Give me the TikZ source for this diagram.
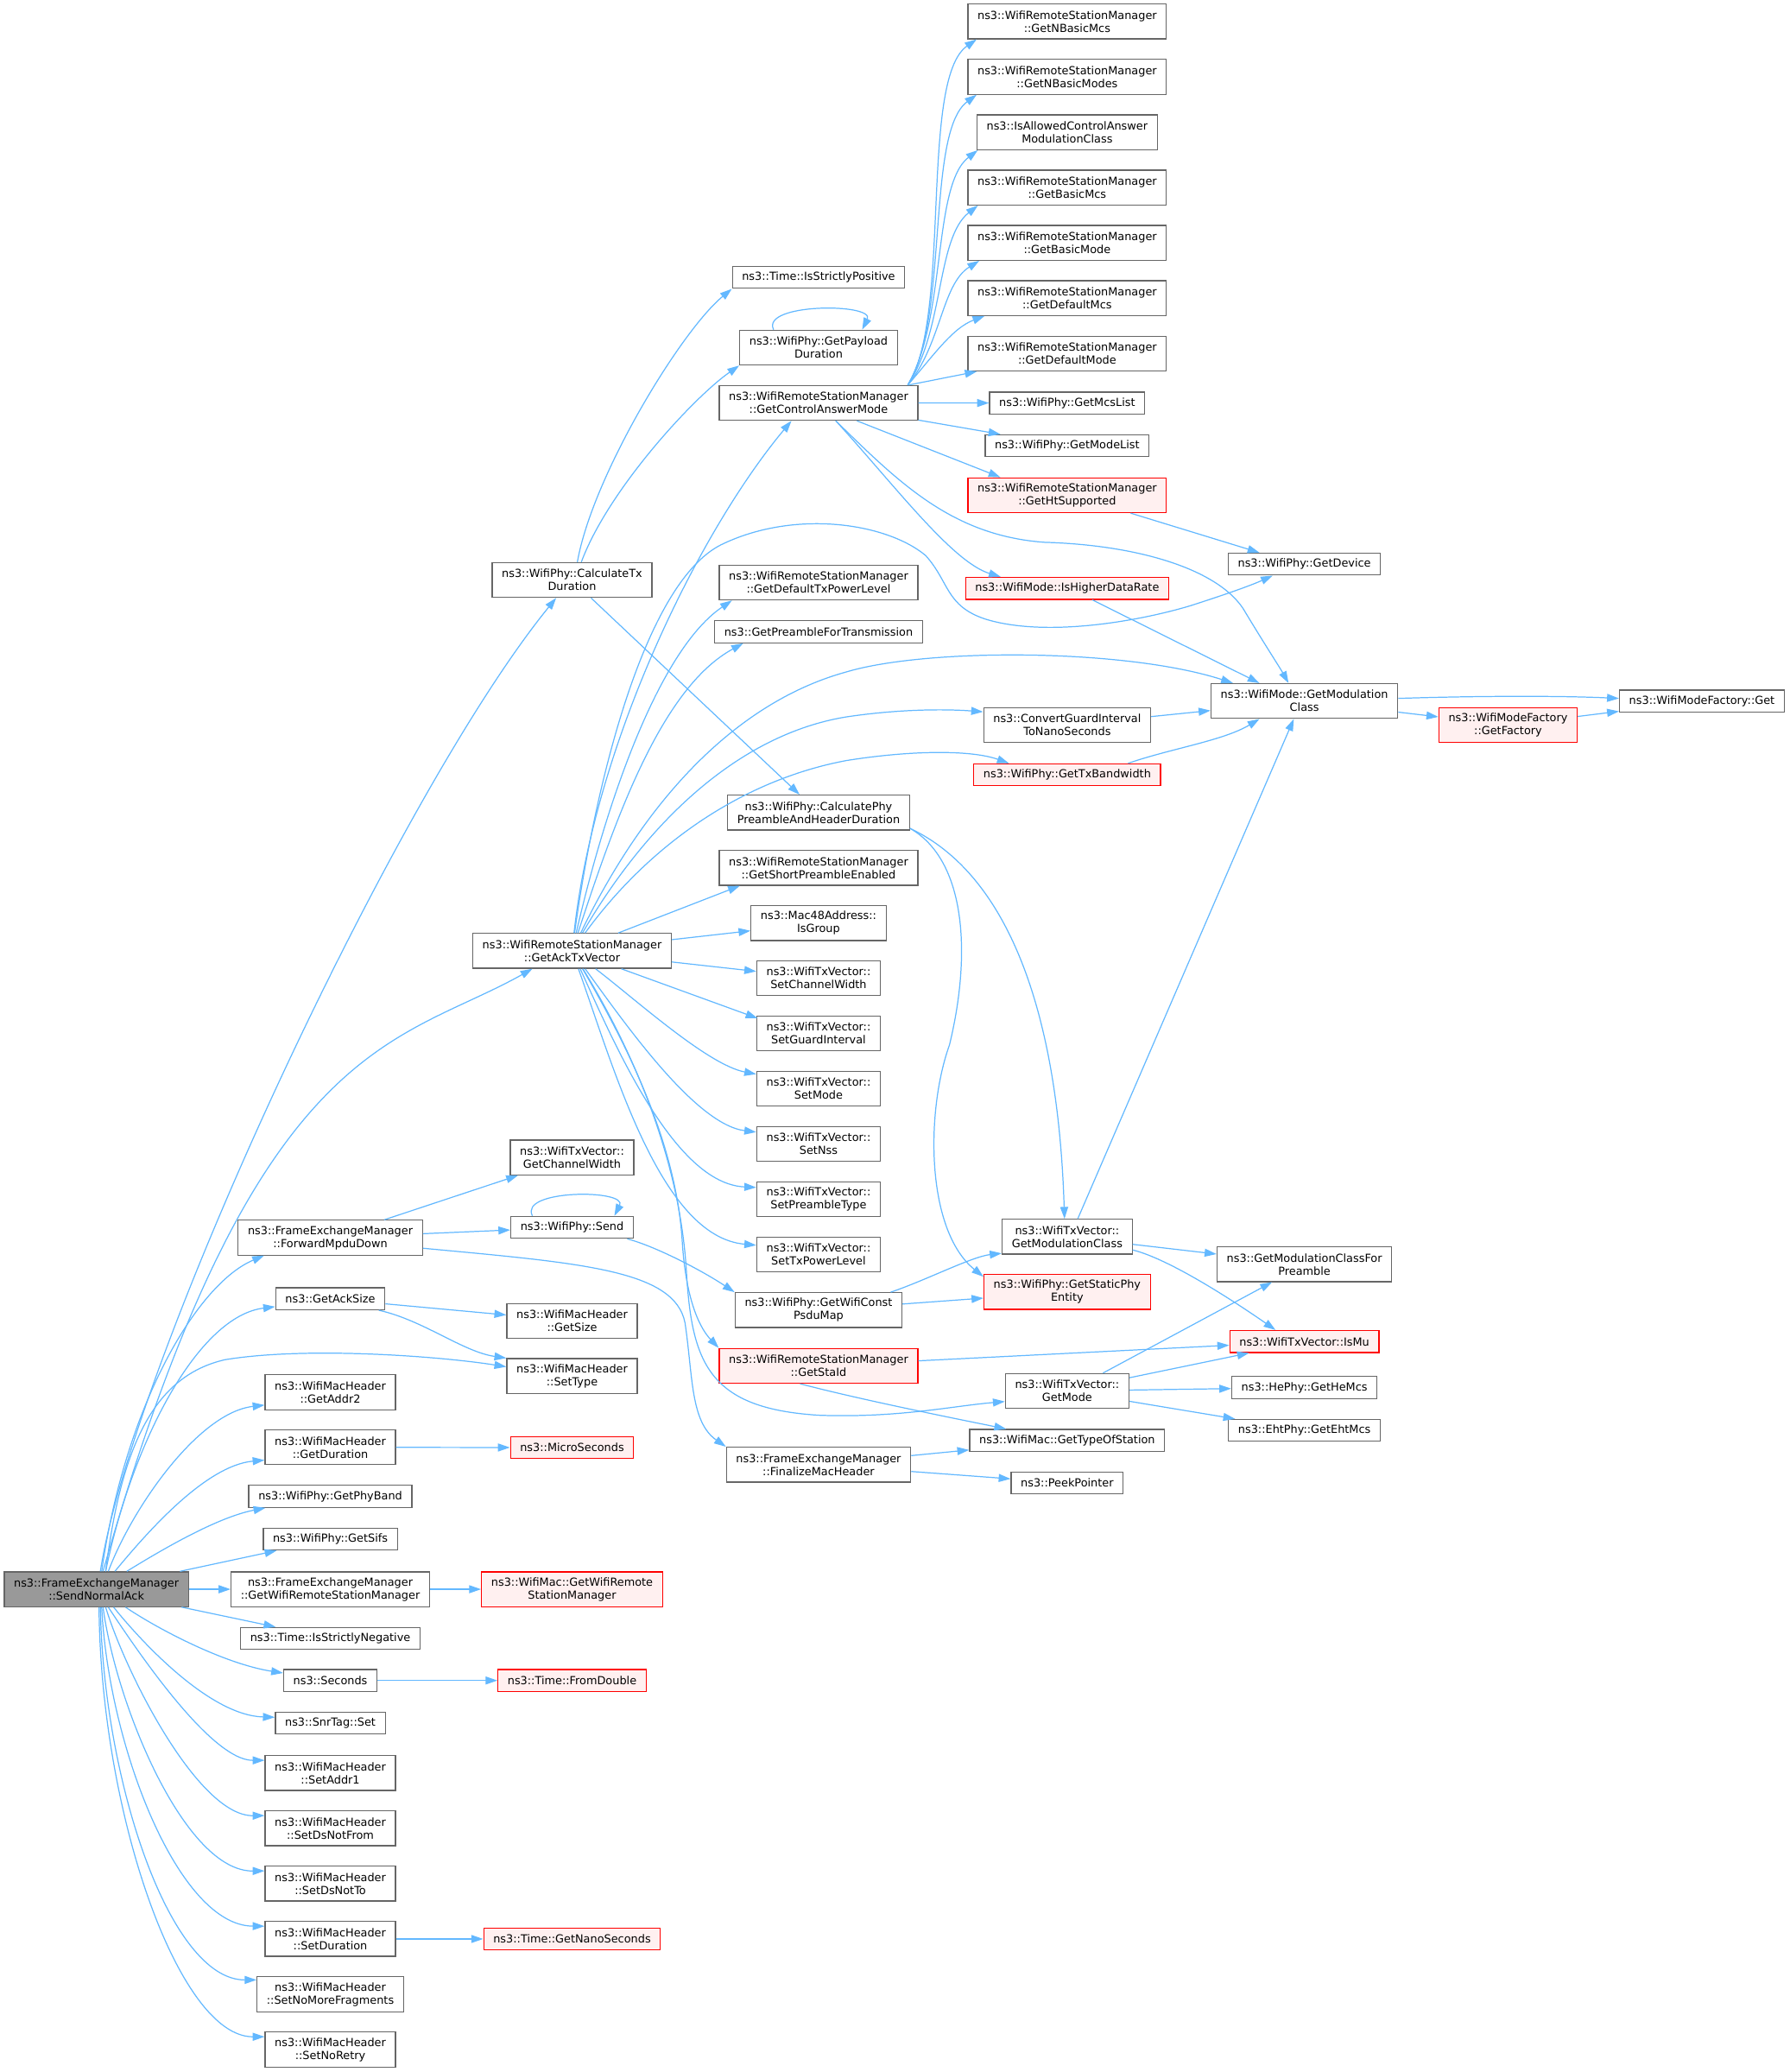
\documentclass[tikz,border=0pt]{standalone}
\usepackage{fontspec}
\setmainfont{DejaVu Sans}
\usetikzlibrary{calc,arrows.meta}
\definecolor{lienbleu}{HTML}{63B8FF}
\definecolor{bordgris}{HTML}{666666}
\definecolor{fondgris}{HTML}{999999}
\definecolor{fondrouge}{HTML}{FFF0F0}
\tikzset{
    fn/.style={draw=bordgris, fill=white, line width=0.8pt, font={\fontsize{8.4pt}{9.8pt}\selectfont},
      align=center, inner xsep=7.3pt, inner ysep=2pt, minimum height=16.6pt},
    fn2/.style={fn, minimum height=26.3pt},
    fnrouge/.style={draw=red, fill=fondrouge},
    fnracine/.style={fill=fondgris},
    appel/.style={draw=lienbleu, line width=0.8pt, -{Triangle[length=9pt,width=6pt]}},
  }
\begin{document}
\begin{tikzpicture}[x=1pt,y=-1pt]
\useasboundingbox (0,0) rectangle (1353,1566.5);
          %RACINE
          \node[fn2,fnracine] (S) at (72.9,1201.5) {ns3::FrameExchangeManager\\::SendNormalAck};

          %colonne 2
          \node[fn2] (fwd) at (249.8,935.7) {ns3::FrameExchangeManager\\::ForwardMpduDown};
          \node[fn] (acksize) at (249.8,981.9) {ns3::GetAckSize};
          \node[fn2] (addr2) at (249.8,1052.6) {ns3::WifiMacHeader\\::GetAddr2};
          \node[fn2] (getdur) at (249.8,1094.2) {ns3::WifiMacHeader\\::GetDuration};
          \node[fn] (phyband) at (249.8,1131.3) {ns3::WifiPhy::GetPhyBand};
          \node[fn] (sifs) at (249.8,1163.6) {ns3::WifiPhy::GetSifs};
          \node[fn2] (getwrsm) at (249.8,1201.5) {ns3::FrameExchangeManager\\::GetWifiRemoteStationManager};
          \node[fn] (negative) at (249.8,1238.7) {ns3::Time::IsStrictlyNegative};
          \node[fn] (seconds) at (249.8,1270.5) {ns3::Seconds};
          \node[fn] (snrset) at (249.8,1302.7) {ns3::SnrTag::Set};
          \node[fn2] (setaddr1) at (249.8,1340.5) {ns3::WifiMacHeader\\::SetAddr1};
          \node[fn2] (dsnotfrom) at (249.8,1382.3) {ns3::WifiMacHeader\\::SetDsNotFrom};
          \node[fn2] (dsnotto) at (249.8,1424.1) {ns3::WifiMacHeader\\::SetDsNotTo};
          \node[fn2] (setdur) at (249.8,1465.9) {ns3::WifiMacHeader\\::SetDuration};
          \node[fn2] (nomorefrag) at (249.8,1507.7) {ns3::WifiMacHeader\\::SetNoMoreFragments};
          \node[fn2] (noretry) at (249.8,1549.5) {ns3::WifiMacHeader\\::SetNoRetry};

          %colonne 3
          \node[fn2] (calctx) at (432.6,438.5) {ns3::WifiPhy::CalculateTx\\Duration};
          \node[fn2] (acktx) at (432.6,718.9) {ns3::WifiRemoteStationManager\\::GetAckTxVector};
          \node[fn2] (chwidth) at (432.6,875.1) {ns3::WifiTxVector::\\GetChannelWidth};
          \node[fn] (send) at (432.6,927.9) {ns3::WifiPhy::Send};
          \node[fn2] (getsize) at (432.6,998.7) {ns3::WifiMacHeader\\::GetSize};
          \node[fn2] (settype) at (432.6,1040.3) {ns3::WifiMacHeader\\::SetType};
          \node[fn,fnrouge] (micro) at (432.6,1094.4) {ns3::MicroSeconds};
          \node[fn2,fnrouge] (macwrsm) at (432.6,1201.5) {ns3::WifiMac::GetWifiRemote\\StationManager};
          \node[fn,fnrouge] (fromdouble) at (432.6,1270.5) {ns3::Time::FromDouble};
          \node[fn,fnrouge] (nanosec) at (432.6,1465.9) {ns3::Time::GetNanoSeconds};

          %colonne 4
          \node[fn] (positive) at (619,209.7) {ns3::Time::IsStrictlyPositive};
          \node[fn2] (payload) at (619,262.8) {ns3::WifiPhy::GetPayload\\Duration};
          \node[fn2] (gcam) at (619,304.6) {ns3::WifiRemoteStationManager\\::GetControlAnswerMode};
          \node[fn2] (txpower) at (619,440.4) {ns3::WifiRemoteStationManager\\::GetDefaultTxPowerLevel};
          \node[fn] (preamble) at (619,477.7) {ns3::GetPreambleForTransmission};
          \node[fn2] (calcphy) at (619,614.3) {ns3::WifiPhy::CalculatePhy\\PreambleAndHeaderDuration};
          \node[fn2] (shortpre) at (619,656.1) {ns3::WifiRemoteStationManager\\::GetShortPreambleEnabled};
          \node[fn2] (isgroup) at (619,697.9) {ns3::Mac48Address::\\IsGroup};
          \node[fn2] (setchw) at (619,739.6) {ns3::WifiTxVector::\\SetChannelWidth};
          \node[fn2] (setgi) at (619,781.4) {ns3::WifiTxVector::\\SetGuardInterval};
          \node[fn2] (setmode) at (619,823.1) {ns3::WifiTxVector::\\SetMode};
          \node[fn2] (setnss) at (619,864.9) {ns3::WifiTxVector::\\SetNss};
          \node[fn2] (setpre) at (619,906.7) {ns3::WifiTxVector::\\SetPreambleType};
          \node[fn2] (settxp) at (619,948.4) {ns3::WifiTxVector::\\SetTxPowerLevel};
          \node[fn2] (constpsdu) at (619,990.5) {ns3::WifiPhy::GetWifiConst\\PsduMap};
          \node[fn2,fnrouge] (staid) at (619,1032.6) {ns3::WifiRemoteStationManager\\::GetStaId};
          \node[fn2] (finalize) at (619,1107.3) {ns3::FrameExchangeManager\\::FinalizeMacHeader};

          %colonne 5
          \node[fn2] (nbmcs) at (807,16.2) {ns3::WifiRemoteStationManager\\::GetNBasicMcs};
          \node[fn2] (nbmodes) at (807,58.1) {ns3::WifiRemoteStationManager\\::GetNBasicModes};
          \node[fn2] (allowed) at (807,100) {ns3::IsAllowedControlAnswer\\ModulationClass};
          \node[fn2] (basicmcs) at (807,141.8) {ns3::WifiRemoteStationManager\\::GetBasicMcs};
          \node[fn2] (basicmode) at (807,183.6) {ns3::WifiRemoteStationManager\\::GetBasicMode};
          \node[fn2] (defmcs) at (807,225.4) {ns3::WifiRemoteStationManager\\::GetDefaultMcs};
          \node[fn2] (defmode) at (807,267.3) {ns3::WifiRemoteStationManager\\::GetDefaultMode};
          \node[fn] (mcslist) at (807,304.7) {ns3::WifiPhy::GetMcsList};
          \node[fn] (modelist) at (807,337) {ns3::WifiPhy::GetModeList};
          \node[fn2,fnrouge] (htsup) at (807,374.4) {ns3::WifiRemoteStationManager\\::GetHtSupported};
          \node[fn,fnrouge] (higher) at (807,444.8) {ns3::WifiMode::IsHigherDataRate};
          \node[fn2] (convgi) at (807,548.2) {ns3::ConvertGuardInterval\\ToNanoSeconds};
          \node[fn,fnrouge] (txbw) at (807,585.8) {ns3::WifiPhy::GetTxBandwidth};
          \node[fn2] (txmodclass) at (807,935) {ns3::WifiTxVector::\\GetModulationClass};
          \node[fn2,fnrouge] (staticphy) at (807,976.8) {ns3::WifiPhy::GetStaticPhy\\Entity};
          \node[fn2] (txgetmode) at (807,1051.6) {ns3::WifiTxVector::\\GetMode};
          \node[fn] (typeofsta) at (807,1089) {ns3::WifiMac::GetTypeOfStation};
          \node[fn] (peek) at (807,1121.2) {ns3::PeekPointer};

          %colonnes 6, 7, 8
          \node[fn] (getdevice) at (986.4,426.5) {ns3::WifiPhy::GetDevice};
          \node[fn2] (modclass) at (986.4,530) {ns3::WifiMode::GetModulation\\Class};
          \node[fn2] (forpreamble) at (986.4,955.8) {ns3::GetModulationClassFor\\Preamble};
          \node[fn,fnrouge] (ismu) at (986.4,1014.2) {ns3::WifiTxVector::IsMu};
          \node[fn] (hemcs) at (986.4,1049) {ns3::HePhy::GetHeMcs};
          \node[fn] (ehtmcs) at (986.4,1081.4) {ns3::EhtPhy::GetEhtMcs};
          \node[fn2,fnrouge] (getfactory) at (1140.4,548.2) {ns3::WifiModeFactory\\::GetFactory};
          \node[fn] (factoryget) at (1287,530) {ns3::WifiModeFactory::Get};

          %APPELS de SendNormalAck
          \draw[appel] ($(S.north)+(3,0)$) .. controls (100,1030) and (300,600) .. ($(calctx.south)+(-12,0)$);
          \draw[appel] ($(S.north)+(5,0)$) .. controls (193,783) and (300,790) .. ($(acktx.south)+(-30,0)$);
          \draw[appel] ($(S.north)+(4,0)$) .. controls (95,1060) and (150,970) .. ($(fwd.south west)+(20,0)$);
          \draw[appel] ($(S.north)+(7,0)$) .. controls (100,1090) and (150,995) .. ($(acksize.west)+(0,6)$);
          \draw[appel] ($(S.north)+(7,0)$) .. controls (92,1090) and (118,1040) .. (170,1028)
                       .. controls (230,1018) and (330,1025) .. (settype.172);
          \draw[appel] ($(S.north)+(9,0)$) .. controls (100,1140) and (150,1068) .. (addr2.191);
          \draw[appel] ($(S.north)+(14,0)$) .. controls (110,1160) and (155,1108) .. (getdur.191);
          \draw[appel] ($(S.north)+(23,0)$) .. controls (125,1170) and (165,1147) .. ($(phyband.south west)+(13,0)$);
          \draw[appel] (S) -- (sifs);
          \draw[appel] (S) -- (getwrsm);
          \draw[appel] (S) -- (negative);
          \draw[appel] ($(S.south)+(22,0)$) .. controls (120,1232) and (170,1258) .. (seconds.171);
          \draw[appel] ($(S.south)+(13,0)$) .. controls (110,1245) and (160,1297) .. (snrset.174);
          \draw[appel] ($(S.south)+(9,0)$) .. controls (105,1250) and (160,1331) .. (setaddr1.169);
          \draw[appel] ($(S.south)+(7,0)$) .. controls (95,1265) and (150,1373) .. (dsnotfrom.169);
          \draw[appel] ($(S.south)+(5,0)$) .. controls (88,1290) and (140,1415) .. (dsnotto.169);
          \draw[appel] ($(S.south)+(4,0)$) .. controls (82,1320) and (135,1456) .. (setdur.169);
          \draw[appel] ($(S.south)+(3,0)$) .. controls (78,1345) and (128,1497) .. (nomorefrag.169);
          \draw[appel] ($(S.south)+(2,0)$) .. controls (76,1370) and (135,1540) .. (noretry.169);

          %colonne 2 -> 3
          \draw[appel] (fwd) -- (chwidth);
          \draw[appel] (fwd) -- (send);
          \draw[appel] ($(fwd.east)+(0,8)$) .. controls (440,955) and (510,960) .. (518,1000)
                       .. controls (524,1040) and (522,1075) .. (finalize.north west);
          \draw[appel] (acksize) -- (getsize);
          \draw[appel] ($(acksize.south east)+(-5,0)$) .. controls (320,998) and (350,1022) .. (settype.north west);
          \draw[appel] (getdur) -- (micro);
          \draw[appel] (getwrsm) -- (macwrsm);
          \draw[appel] (seconds) -- (fromdouble);
          \draw[appel] (setdur) -- (nanosec);

          %Send
          \draw[appel] ($(send.north)+(-30,0)$) .. controls (392,899) and (475,899) .. ($(send.north)+(32,0)$);
          \draw[appel] ($(send.south east)+(-5,0)$) .. controls (495,942) and (530,960) .. (constpsdu.north west);

          %CalculateTxDuration
          \draw[appel] ($(calctx.north)+(4,0)$) .. controls (448,360) and (515,250) .. (positive.south west);
          \draw[appel] ($(calctx.north)+(7,0)$) .. controls (460,370) and (525,300) .. (payload.south west);
          \draw[appel] (calctx) -- (calcphy);
          \draw[appel] ($(payload.north)+(-34,0)$) .. controls (575,229) and (662,229) .. ($(payload.north)+(33,0)$);

          %GetAckTxVector
          \draw[appel] (acktx) .. controls (450,560) and (530,400) .. ($(gcam.south west)+(55,0)$);
          \draw[appel] (acktx) .. controls (452,580) and (490,440) .. (545,412)
                       .. controls (600,385) and (670,395) .. (700,420)
                       .. controls (718,440) and (715,458) .. (745,468)
                       .. controls (790,482) and (860,470) .. (900,458)
                       .. controls (925,450) and (945,443) .. ($(getdevice.south west)+(34,0)$);
          \draw[appel] (acktx) .. controls (460,600) and (500,490) .. ($(txpower.south west)+(10,0)$);
          \draw[appel] (acktx) .. controls (465,620) and (500,520) .. ($(preamble.south west)+(22,0)$);
          \draw[appel] (acktx) .. controls (490,600) and (560,530) .. (640,508)
                       .. controls (700,490) and (850,490) .. ($(modclass.north west)+(17,0)$);
          \draw[appel] (acktx) .. controls (490,620) and (560,555) .. (640,542)
                       .. controls (680,536) and (715,536) .. ($(convgi.north west)+(0,3.5)$);
          \draw[appel] (acktx) .. controls (490,640) and (560,590) .. (640,575)
                       .. controls (690,567) and (735,567) .. ($(txbw.north west)+(27,0)$);
          \draw[appel] (acktx) -- ($(shortpre.south west)+(16,0)$);
          \draw[appel] (acktx) -- (isgroup);
          \draw[appel] (acktx) -- (setchw);
          \draw[appel] (acktx) -- ($(setgi.north west)+(1,2)$);
          \draw[appel] (acktx) .. controls (480,755) and (535,805) .. ($(setmode.west)+(0,-11)$);
          \draw[appel] (acktx) .. controls (470,770) and (525,850) .. ($(setnss.west)+(0,-9)$);
          \draw[appel] (acktx) .. controls (465,790) and (510,895) .. ($(setpre.west)+(0,-9)$);
          \draw[appel] (acktx) .. controls (465,810) and (500,935) .. ($(settxp.west)+(0,-7)$);
          \draw[appel] (acktx) .. controls (480,800) and (512,870) .. (516,940)
                       .. controls (519,985) and (530,1005) .. (staid.north west);
          \draw[appel] (acktx) .. controls (482,800) and (514,880) .. (519,960)
                       .. controls (523,1030) and (535,1065) .. (620,1070)
                       .. controls (680,1072) and (720,1063) .. ($(txgetmode.west)+(0,8)$);

          %CalculatePhyPreambleAndHeaderDuration
          \draw[appel] ($(calcphy.east)+(0,12)$) .. controls (760,660) and (800,760) .. ($(txmodclass.north)+(-2,0)$);
          \draw[appel] ($(calcphy.east)+(0,12)$) .. controls (730,650) and (735,720) .. (718,790)
                       .. controls (700,840) and (700,930) .. ($(staticphy.north west)+(0,2)$);
          \draw[appel] ($(constpsdu.north east)+(-9,0)$) .. controls (700,968) and (735,950) .. ($(txmodclass.south west)+(0,-1)$);
          \draw[appel] (constpsdu) -- (staticphy);

          %GetModulationClass, GetMode
          \draw[appel] (txmodclass) -- (forpreamble);
          \draw[appel] ($(txmodclass.east)+(0,10)$) .. controls (885,952) and (935,985) .. ($(ismu.north west)+(35,0)$);
          \draw[appel] ($(txmodclass.north)+(8,0)$) -- ($(modclass.south)+(-8,0)$);
          \draw[appel] ($(txgetmode.north east)+(-20,0)$) -- ($(forpreamble.south west)+(42,0)$);
          \draw[appel] ($(txgetmode.east)+(0,-10)$) -- ($(ismu.south west)+(15,0)$);
          \draw[appel] (txgetmode) -- (hemcs);
          \draw[appel] (txgetmode) -- (ehtmcs);

          %GetStaId, FinalizeMacHeader
          \draw[appel] (staid) -- (ismu);
          \draw[appel] ($(staid.south)+(-14,0)$) .. controls (650,1058) and (720,1072) .. ($(typeofsta.north west)+(28,0)$);
          \draw[appel] (finalize) -- (typeofsta);
          \draw[appel] (finalize) -- (peek);

          %GetControlAnswerMode
          \draw[appel] ($(gcam.north east)+(-8,0)$) .. controls (720,240) and (695,60) .. ($(nbmcs.south west)+(7,0)$);
          \draw[appel] ($(gcam.north east)+(-8,0)$) .. controls (718,240) and (700,100) .. ($(nbmodes.south west)+(7,0)$);
          \draw[appel] ($(gcam.north east)+(-8,0)$) .. controls (716,240) and (705,140) .. ($(allowed.south west)+(1,0)$);
          \draw[appel] ($(gcam.north east)+(-8,0)$) .. controls (714,250) and (708,180) .. ($(basicmcs.south west)+(8,0)$);
          \draw[appel] ($(gcam.north east)+(-8,0)$) .. controls (712,260) and (712,215) .. ($(basicmode.south west)+(9,0)$);
          \draw[appel] ($(gcam.north east)+(-8,0)$) .. controls (705,270) and (720,248) .. ($(defmcs.south west)+(13,0)$);
          \draw[appel] (gcam) -- (defmode);
          \draw[appel] (gcam) -- (mcslist);
          \draw[appel] (gcam) -- (modelist);
          \draw[appel] ($(gcam.south)+(29,0)$) -- ($(htsup.north west)+(25,0)$);
          \draw[appel] ($(gcam.south)+(13,0)$) .. controls (675,365) and (720,425) .. ($(higher.north west)+(27,0)$);
          \draw[appel] ($(gcam.south)+(13,0)$) .. controls (680,365) and (720,405) .. (790,410)
                       .. controls (860,412) and (920,430) .. (940,460)
                       .. controls (955,485) and (968,505) .. ($(modclass.north west)+(59,0)$);

          %WifiMode::GetModulationClass
          \draw[appel] ($(htsup.south)+(48,0)$) -- ($(getdevice.north west)+(24,0)$);
          \draw[appel] ($(higher.south)+(19,0)$) -- ($(modclass.north west)+(37,0)$);
          \draw[appel] (convgi) -- (modclass);
          \draw[appel] ($(txbw.north east)+(-25,0)$) .. controls (885,566) and (925,560) .. ($(modclass.south west)+(37,0)$);
          \draw[appel] ($(modclass.east)+(0,-2)$) .. controls (1120,526) and (1180,526) .. ($(factoryget.west)+(0,-2)$);
          \draw[appel] (modclass) -- (getfactory);
          \draw[appel] (getfactory) -- (factoryget);

\end{tikzpicture}
\end{document}
